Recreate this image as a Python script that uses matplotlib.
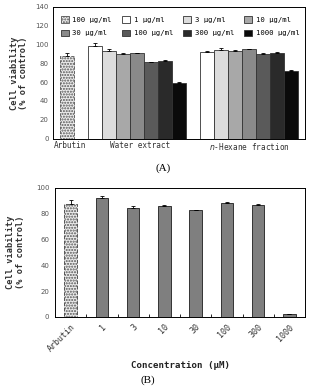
import matplotlib
matplotlib.use("Agg")
import matplotlib.pyplot as plt
from matplotlib.patches import Patch
import numpy as np

# ---- data (A) ----
legend_labels = ["100 μg/ml", "1 μg/ml", "3 μg/ml", "10 μg/ml",
                 "30 μg/ml", "100 μg/ml", "300 μg/ml", "1000 μg/ml"]
arbutin_a = 88.0
arbutin_a_err = 3.0
water = [98.0, 93.3, 90.0, 90.7, 81.0, 82.0, 59.5]
water_err = [3.5, 2.0, 0.5, 0.5, 0.5, 1.5, 0.5]
hexane = [92.2, 94.7, 92.7, 95.3, 90.0, 91.5, 72.0]
hexane_err = [1.0, 2.0, 1.5, 0.5, 0.5, 0.8, 1.0]
group_labels = ["Arbutin", "Water extract", "$\\it{n}$-Hexane fraction"]

# ---- data (B) ----
conc_labels = ["Arbutin", "1", "3", "10", "30", "100", "300", "1000"]
viab_b = [87.5, 92.5, 84.5, 86.0, 82.8, 88.0, 86.8, 2.5]
viab_b_err = [3.0, 1.5, 1.8, 1.0, 0.3, 1.2, 1.0, 0.0]

shades = ["#ffffff", "#dcdcdc", "#a8a8a8", "#8a8a8a", "#5a5a5a", "#2a2a2a", "#0a0a0a"]
arb_face = "#ececec"
mono = "DejaVu Sans Mono"
tick_gray = "#555555"

fig = plt.figure(figsize=(3.11, 3.86), dpi=100)
axA = fig.add_axes([0.170, 0.641, 0.811, 0.341])
axB = fig.add_axes([0.177, 0.179, 0.804, 0.334])

# ---------- panel A ----------
ekw = dict(ecolor="black", elinewidth=0.6, capsize=1.2, capthick=0.6)
axA.bar(0, arbutin_a, width=0.95, color=arb_face, edgecolor="#555555",
        hatch="......", linewidth=0.6, linestyle="--",
        yerr=[[0], [arbutin_a_err]], error_kw=ekw)
xw = np.arange(2, 9)
xh = np.arange(10, 17)
axA.bar(xw, water, width=1.0, color=shades, edgecolor="#333333", linewidth=0.6,
        yerr=[np.zeros(7), water_err], error_kw=ekw)
axA.bar(xh, hexane, width=1.0, color=shades, edgecolor="#333333", linewidth=0.6,
        yerr=[np.zeros(7), hexane_err], error_kw=ekw)
axA.set_xlim(-1, 17)
axA.set_ylim(0, 140)
axA.set_yticks(range(0, 141, 20))
axA.tick_params(axis="y", length=0, labelsize=5, labelcolor=tick_gray, pad=3)
axA.set_xticks([0.2, 5.2, 13])
axA.set_xticklabels(group_labels, fontsize=5.6, family=mono, color="#333333")
axA.tick_params(axis="x", length=0, pad=2)
for s in axA.spines.values():
    s.set_linewidth(0.7)
axA.set_ylabel("Cell viability\n(% of control)", fontsize=6.2, fontweight="bold",
               family=mono, color="#333333", labelpad=5, linespacing=1.1)

handles = [Patch(facecolor=arb_face, edgecolor="#555555", hatch="......", linewidth=0.6)]
handles += [Patch(facecolor=c, edgecolor="#333333", linewidth=0.6) for c in shades]
# legend fills column by column, so reorder to read row by row
order = [0, 4, 1, 5, 2, 6, 3, 7]
axA.legend([handles[i] for i in order], [legend_labels[i] for i in order],
           ncol=4, loc="upper left", frameon=False, mode="expand",
           prop={"family": mono, "size": 5.2}, handlelength=1.1,
           handleheight=1.1, handletextpad=0.5, columnspacing=0.6,
           labelspacing=0.95, bbox_to_anchor=(0.02, 0.955, 0.97, 0.0),
           borderaxespad=0)

fig.text(0.524, 0.565, "(A)", ha="center", va="center", fontsize=8,
         family="Liberation Serif")

# ---------- panel B ----------
xb = np.arange(len(conc_labels))
colsB = [arb_face] + ["#7f7f7f"] * (len(conc_labels) - 1)
bars = axB.bar(xb, viab_b, width=0.4, color=colsB, edgecolor="#333333", linewidth=0.7,
               yerr=[np.zeros(len(xb)), viab_b_err], error_kw=ekw)
bars[0].set_hatch("......")
bars[0].set_edgecolor("#555555")
bars[0].set_linestyle("--")
axB.set_xlim(-0.5, 7.5)
axB.set_ylim(0, 100)
axB.set_yticks(range(0, 101, 20))
axB.tick_params(axis="y", length=0, labelsize=5, labelcolor=tick_gray, pad=4)
axB.set_xticks(xb)
axB.set_xticklabels(conc_labels, rotation=45, ha="right", rotation_mode="anchor",
                    fontsize=6, family=mono, color="#333333")
axB.tick_params(axis="x", which="major", length=0, pad=4)
axB.set_xticks(xb[:-1] + 0.5, minor=True)
axB.tick_params(axis="x", which="minor", direction="in", length=2, width=0.6)
for s in axB.spines.values():
    s.set_linewidth(0.7)
axB.set_ylabel("Cell viability\n(% of control)", fontsize=6.2, fontweight="bold",
               family=mono, color="#333333", labelpad=8, linespacing=1.1)
axB.set_xlabel("Concentration (μM)", fontsize=6.6, fontweight="bold", family=mono,
               color="#222222", labelpad=5)

fig.text(0.476, 0.016, "(B)", ha="center", va="center", fontsize=8,
         family="Liberation Serif")

fig.savefig("out.png", dpi=100)
